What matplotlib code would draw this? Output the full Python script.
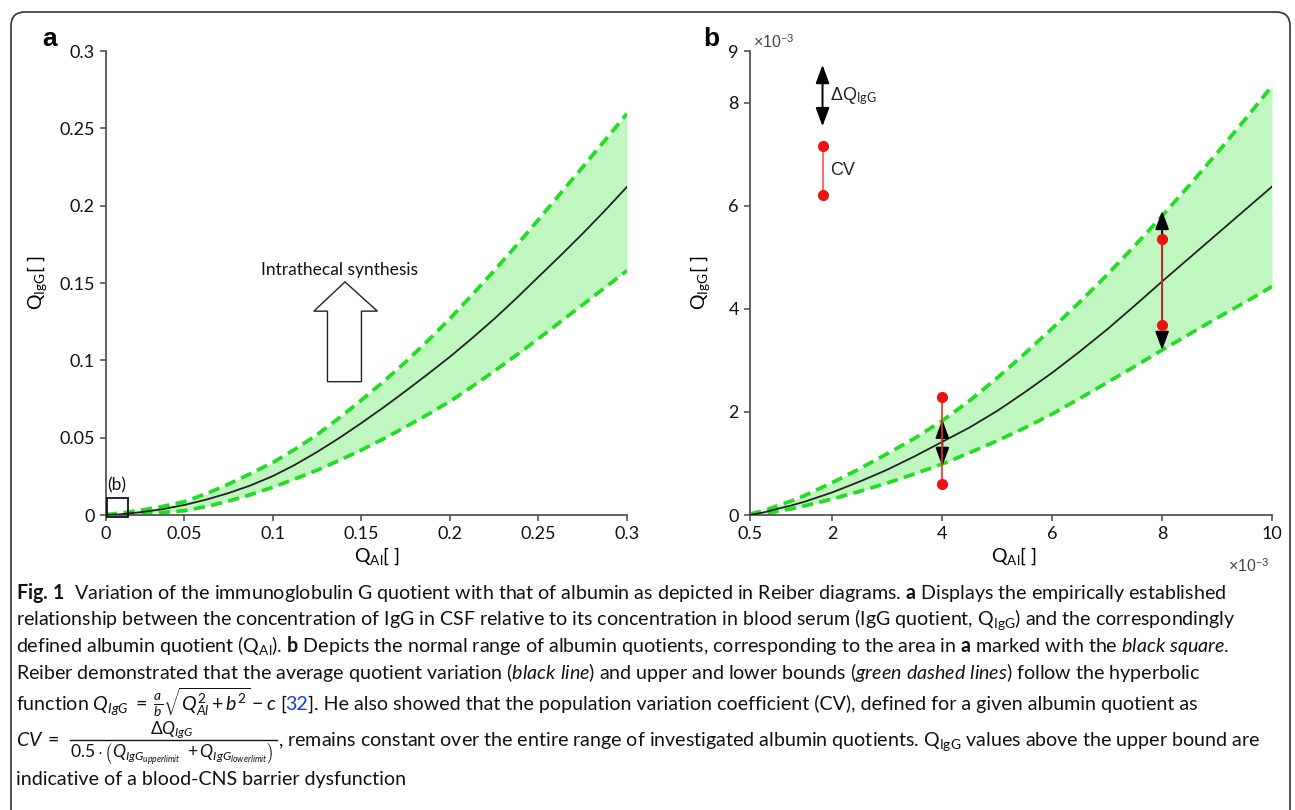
#! /usr/bin/env python3
# Reiber diagram figure: IgG quotient vs albumin quotient, panels a and b plus caption

import matplotlib
matplotlib.use("Agg")
import matplotlib.pyplot as plt
from matplotlib.patches import FancyBboxPatch, Rectangle, Polygon
from matplotlib.lines import Line2D

# panel a
qal_a = [0.0057, 0.0125, 0.025, 0.0375, 0.05, 0.0625, 0.075, 0.0875, 0.1, 0.1125, 0.125,
         0.1375, 0.15, 0.1625, 0.175, 0.1875, 0.2, 0.2125, 0.225, 0.2375, 0.25, 0.2625,
         0.275, 0.2875, 0.3]
mean_a = [0.0, 0.0003, 0.0018, 0.0037, 0.0065, 0.0100, 0.0142, 0.0192, 0.0252, 0.0325, 0.0408,
          0.0498, 0.0595, 0.0696, 0.0802, 0.0911, 0.1023, 0.1143, 0.1268, 0.1401, 0.1540,
          0.1678, 0.1820, 0.1968, 0.2122]
upper_a = [0.0003, 0.0010, 0.0030, 0.0055, 0.0086, 0.0138, 0.0200, 0.0268, 0.0340, 0.0425,
           0.0520, 0.0628, 0.0743, 0.0863, 0.0990, 0.1127, 0.1270, 0.1423, 0.1580, 0.1742,
           0.1910, 0.2080, 0.2250, 0.2422, 0.2595]
lower_a = [0.0, 0.0003, 0.0008, 0.0016, 0.0028, 0.0055, 0.0090, 0.0132, 0.0180, 0.0233, 0.0290,
           0.0353, 0.0420, 0.0493, 0.0570, 0.0650, 0.0735, 0.0830, 0.0930, 0.1033, 0.1140,
           0.1250, 0.1360, 0.1470, 0.1580]
xticks_a = [0.0057, 0.05, 0.1, 0.15, 0.2, 0.25, 0.3]
xlabels_a = ['0', '0.05', '0.1', '0.15', '0.2', '0.25', '0.3']
yticks_a = [0, 0.05, 0.1, 0.15, 0.2, 0.25, 0.3]
ylabels_a = ['0', '0.05', '0.1', '0.15', '0.2', '0.25', '0.3']

# panel b, values in units of 1e-3
qal_b = [0.5, 0.75, 1, 1.25, 1.5, 2, 2.5, 3, 3.5, 4, 4.5, 5, 5.5, 6, 6.5, 7, 7.5, 8, 8.5,
         9, 9.5, 10]
mean_b = [0.0, 0.05, 0.12, 0.185, 0.26, 0.44, 0.65, 0.88, 1.14, 1.42, 1.70, 2.02, 2.38, 2.76,
          3.17, 3.60, 4.06, 4.53, 4.99, 5.45, 5.91, 6.37]
upper_b = [0.02, 0.08, 0.18, 0.27, 0.38, 0.63, 0.90, 1.19, 1.49, 1.83, 2.22, 2.66, 3.13, 3.62,
           4.13, 4.66, 5.22, 5.80, 6.40, 7.02, 7.66, 8.32]
lower_b = [0.0, 0.03, 0.07, 0.12, 0.18, 0.31, 0.46, 0.62, 0.80, 0.99, 1.21, 1.44, 1.69, 1.96,
           2.26, 2.57, 2.88, 3.20, 3.51, 3.82, 4.12, 4.43]
xticks_b = [0.5, 2, 4, 6, 8, 10]
xlabels_b = ['0.5', '2', '4', '6', '8', '10']
yticks_b = [0, 2, 4, 6, 8, 9]
ylabels_b = ['0', '2', '4', '6', '8', '9']

# CV bars and delta-Q arrows in panel b
cv_x = [4, 8]
cv_lo = [0.61, 3.69]
cv_hi = [2.29, 5.36]
dq_lo = [0.95, 3.2]
dq_hi = [1.85, 5.9]
# legend marks in panel b
key_x = 1.82
key_dq = [7.54, 8.73]
key_cv = [6.2, 7.16]

W, H = 1295, 810
FILL = '#c0f7c0'
GREEN = '#22dd22'
AXC = '#555555'
INK = '#111111'
ARIAL = ['Liberation Sans', 'DejaVu Sans']

plt.rcParams['font.family'] = ['Lato', 'DejaVu Sans']
plt.rcParams['mathtext.fontset'] = 'custom'
plt.rcParams['mathtext.rm'] = 'Lato'
plt.rcParams['mathtext.it'] = 'Lato:italic'
plt.rcParams['mathtext.bf'] = 'Lato:bold'

fig = plt.figure(figsize=(W / 100, H / 100), dpi=100)


def ax_at(left, top, right, bottom):
    return fig.add_axes([left / W, 1 - bottom / H, (right - left) / W, (bottom - top) / H])


def style(ax, xt, xl, yt, yl):
    for s in ['top', 'right']:
        ax.spines[s].set_visible(False)
    for s in ['left', 'bottom']:
        ax.spines[s].set_color(AXC)
        ax.spines[s].set_linewidth(1.3)
    ax.tick_params(colors=AXC, labelcolor=INK, length=4, width=1.2, pad=4, labelsize=13)
    ax.set_xticks(xt)
    ax.set_xticklabels(xl)
    ax.set_yticks(yt)
    ax.set_yticklabels(yl)


def band(ax, x, mean, upper, lower):
    ax.fill_between(x, lower, upper, color=FILL, lw=0, zorder=1)
    for y in (upper, lower):
        ax.plot(x, y, color=GREEN, lw=2.7, ls=(0, (3.0, 1.7)), zorder=2)
    ax.plot(x, mean, color='#222222', lw=1.3, zorder=3)


# ---- panel a
ax1 = ax_at(106, 51, 627, 515)
band(ax1, qal_a, mean_a, upper_a, lower_a)
ax1.set_xlim(qal_a[0], 0.3)
ax1.set_ylim(0, 0.3)
style(ax1, xticks_a, xlabels_a, yticks_a, ylabels_a)
ax1.set_xlabel(r'Q$_{\mathrm{Al}}$[ ]', fontsize=14)
ax1.xaxis.set_label_coords(0.52, -0.066)
ax1.set_ylabel(r'Q$_{\mathrm{IgG}}$[ ]', fontsize=14)
ax1.yaxis.set_label_coords(-0.11, 0.5)

# block arrow for intrathecal synthesis
sh_l, sh_r, hd_l, hd_r, tip_x = 0.1308, 0.15, 0.1231, 0.159, 0.1407
y_bot, y_head, y_tip = 0.0862, 0.1318, 0.1507
ax1.add_patch(Polygon([(sh_l, y_bot), (sh_r, y_bot), (sh_r, y_head), (hd_r, y_head),
                       (tip_x, y_tip), (hd_l, y_head), (sh_l, y_head)],
                      closed=True, fc='white', ec='#222222', lw=1.0, zorder=4))
ax1.text(0.1375, 0.1535, 'Intrathecal synthesis', ha='center', va='bottom',
         fontsize=12.5, color=INK)
ax1.add_patch(Rectangle((0.0062, -0.0012), 0.0121, 0.0125, fill=False,
                        ec=INK, lw=1.3, clip_on=False, zorder=5))
ax1.text(0.012, 0.0138, '(b)', ha='center', va='bottom', fontsize=12.5, color=INK)

# ---- panel b
ax2 = ax_at(750, 51, 1272, 515)
band(ax2, qal_b, mean_b, upper_b, lower_b)
ax2.set_xlim(0.5, 10)
ax2.set_ylim(0, 9)
style(ax2, xticks_b, xlabels_b, yticks_b, ylabels_b)
ax2.set_xlabel(r'Q$_{\mathrm{Al}}$[ ]', fontsize=14)
ax2.xaxis.set_label_coords(0.505, -0.066)
ax2.set_ylabel(r'Q$_{\mathrm{IgG}}$[ ]', fontsize=14)
ax2.yaxis.set_label_coords(-0.072, 0.5)

arr = dict(arrowstyle='<|-|>,head_length=0.7,head_width=0.26', color='black',
           lw=1.4, shrinkA=0, shrinkB=0, mutation_scale=16)
for x, lo, hi, clo, chi in zip(cv_x, dq_lo, dq_hi, cv_lo, cv_hi):
    ax2.annotate('', xy=(x, hi), xytext=(x, lo), arrowprops=arr, zorder=5)
    ax2.plot([x, x], [clo, chi], color='#e83030', lw=1.2, zorder=6)
    ax2.plot([x, x], [clo, chi], 'o', color='#ee1111', ms=7, zorder=7)

ax2.annotate('', xy=(key_x, key_dq[1]), xytext=(key_x, key_dq[0]), arrowprops=arr,
             annotation_clip=False)
ax2.plot([key_x, key_x], key_cv, color='#ff5050', lw=1.2)
ax2.plot([key_x, key_x], key_cv, 'o', color='#ee1111', ms=7)
ax2.text(1.96, 8.13, r'ΔQ$_{\mathrm{IgG}}$', fontsize=13, va='center', ha='left',
         family=ARIAL, color='#222222')
ax2.text(1.96, 6.68, 'CV', fontsize=13, va='center', ha='left', family=ARIAL,
         color='#222222')

fig.text(753 / W, 1 - 48 / H, r'×10$^{-3}$', fontsize=11.5, color='#444444', family=ARIAL)
fig.text(1228 / W, 1 - 572 / H, r'×10$^{-3}$', fontsize=11.5, color='#444444', family=ARIAL)

# panel letters
fig.text(42 / W, 1 - 46 / H, 'a', fontsize=19, fontweight='bold', family=ARIAL)
fig.text(703 / W, 1 - 46 / H, 'b', fontsize=19, fontweight='bold', family=ARIAL)

# outer frame, open at the bottom
fig.patches.append(FancyBboxPatch((11 / 100, -0.5), (1290 - 11) / 100, (H - 12) / 100 + 0.5,
                                  boxstyle='round,pad=0,rounding_size=0.14',
                                  transform=fig.dpi_scale_trans, fill=False,
                                  ec='#333333', lw=1.2))

# ---- caption
CAP = 14.1
rend = fig.canvas.get_renderer()


def put(x_px, y_px, s, size=CAP, color=INK, ha='left'):
    t = fig.text(x_px / W, 1 - y_px / H, s, color=color, fontsize=size, va='baseline', ha=ha)
    return t.get_window_extent(rend).width


caption = [
    (599, r'$\mathbf{Fig.\,1}$  Variation of the immunoglobulin G quotient with that of albumin '
          r'as depicted in Reiber diagrams. $\mathbf{a}$ Displays the empirically established'),
    (625, r'relationship between the concentration of IgG in CSF relative to its concentration in '
          r'blood serum (IgG quotient, Q$_{\mathrm{IgG}}$) and the correspondingly'),
    (652, r'defined albumin quotient (Q$_{\mathrm{Al}}$). $\mathbf{b}$ Depicts the normal range of '
          r'albumin quotients, corresponding to the area in $\mathbf{a}$ marked with the '
          r'$\mathit{black\ square}$.'),
    (679, r'Reiber demonstrated that the average quotient variation ($\mathit{black\ line}$) and '
          r'upper and lower bounds ($\mathit{green\ dashed\ lines}$) follow the hyperbolic'),
    (785, 'indicative of a blood-CNS barrier dysfunction'),
]
for y, s in caption:
    put(16, y, s)

# line with the hyperbolic function and the blue reference number
B5 = 710
x = 16
x += put(x, B5, r'function $Q_{IgG}\;=\;\frac{a}{b}\sqrt{Q_{Al}^2+b^2}-c$ [') - 2
x += put(x, B5, '32', color='#1a3fd0')
put(x, B5, r']. He also showed that the population variation coefficient (CV), '
           r'defined for a given albumin quotient as')

# line with the CV fraction, built from numerator, bar and denominator
B6 = 746
x = 16
x += put(x, B6, r'$CV\;=$') + 10
den_w = put(x, B6 + 13,
            r'$0.5\cdot\left(Q_{IgG_{upperlimit}}\ +Q_{IgG_{lowerlimit}}\right)$',
            size=12.6)
put(x + den_w / 2, B6 - 12, r'$\Delta Q_{IgG}$', size=12.5, ha='center')
fig.add_artist(Line2D([x / W, (x + den_w + 4) / W], [1 - (B6 - 6) / H, 1 - (B6 - 6) / H],
                      color=INK, lw=1.0))
x += den_w + 5
put(x, B6, r', remains constant over the entire range of investigated albumin quotients. '
           r'Q$_{\mathrm{IgG}}$ values above the upper bound are')

fig.savefig('out.png', dpi=100)
